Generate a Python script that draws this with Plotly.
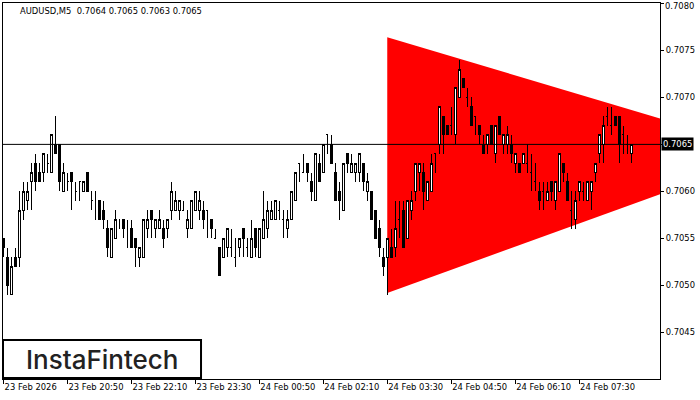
import pandas as pd
import plotly.graph_objects as go

symbol = "AUDUSD,M5"
start_time = "2026-02-23 19:30"
bar_minutes = 5

open_ = [0.7055, 0.7053, 0.7049, 0.7053, 0.7053, 0.7058, 0.7059, 0.7061, 0.7063, 0.7062,
         0.7062, 0.7063, 0.7062, 0.7065, 0.7065, 0.7060, 0.7061, 0.7062, 0.7060, 0.7061,
         0.7060, 0.7062, 0.7059, 0.7058, 0.7059, 0.7058, 0.7056, 0.7053, 0.7055, 0.7057,
         0.7057, 0.7055, 0.7056, 0.7055, 0.7053, 0.7053, 0.7056, 0.7058, 0.7056, 0.7056,
         0.7056, 0.7056, 0.7058, 0.7058, 0.7058, 0.7058, 0.7056, 0.7056, 0.7058, 0.7058,
         0.7058, 0.7058, 0.7057, 0.7055, 0.7054, 0.7053, 0.7054, 0.7054, 0.7053, 0.7054,
         0.7056, 0.7054, 0.7053, 0.7056, 0.7053, 0.7055, 0.7056, 0.7057, 0.7057, 0.7058,
         0.7057, 0.7056, 0.7057, 0.7059, 0.7063, 0.7062, 0.7063, 0.7061, 0.7059, 0.7063,
         0.7062, 0.7066, 0.7065, 0.7062, 0.7060, 0.7058, 0.7064, 0.7062, 0.7062, 0.7062,
         0.7063, 0.7060, 0.7060, 0.7058, 0.7056, 0.7053, 0.7053, 0.7054, 0.7054, 0.7057,
         0.7058, 0.7055, 0.7058, 0.7060, 0.7062, 0.7062, 0.7059, 0.7060, 0.7064, 0.7065,
         0.7068, 0.7067, 0.7067, 0.7066, 0.7070, 0.7072, 0.7070, 0.7069, 0.7068, 0.7067,
         0.7065, 0.7065, 0.7067, 0.7064, 0.7068, 0.7065, 0.7065, 0.7065, 0.7063, 0.7063,
         0.7063, 0.7063, 0.7062, 0.7061, 0.7060, 0.7060, 0.7059, 0.7061, 0.7059, 0.7060,
         0.7063, 0.7061, 0.7058, 0.7057, 0.7060, 0.7060, 0.7059, 0.7060, 0.7062, 0.7064,
         0.7065, 0.7068, 0.7067, 0.7068, 0.7068, 0.7066, 0.7065, 0.7064]
high = [0.7055, 0.7054, 0.7053, 0.7054, 0.7060, 0.7061, 0.7061, 0.7063, 0.7064, 0.7063,
        0.7064, 0.7064, 0.7066, 0.7068, 0.7065, 0.7063, 0.7062, 0.7062, 0.7061, 0.7061,
        0.7061, 0.7062, 0.7060, 0.7060, 0.7059, 0.7059, 0.7057, 0.7056, 0.7058, 0.7057,
        0.7057, 0.7057, 0.7057, 0.7055, 0.7054, 0.7057, 0.7058, 0.7058, 0.7057, 0.7058,
        0.7057, 0.7057, 0.7061, 0.7060, 0.7059, 0.7059, 0.7058, 0.7059, 0.7060, 0.7060,
        0.7059, 0.7058, 0.7057, 0.7056, 0.7054, 0.7055, 0.7056, 0.7056, 0.7055, 0.7055,
        0.7056, 0.7055, 0.7057, 0.7056, 0.7056, 0.7060, 0.7059, 0.7059, 0.7059, 0.7059,
        0.7058, 0.7058, 0.7060, 0.7062, 0.7063, 0.7064, 0.7063, 0.7062, 0.7064, 0.7064,
        0.7065, 0.7066, 0.7066, 0.7063, 0.7061, 0.7063, 0.7064, 0.7064, 0.7063, 0.7064,
        0.7063, 0.7062, 0.7060, 0.7058, 0.7057, 0.7054, 0.7055, 0.7056, 0.7059, 0.7059,
        0.7059, 0.7059, 0.7060, 0.7063, 0.7063, 0.7063, 0.7061, 0.7064, 0.7064, 0.7069,
        0.7068, 0.7067, 0.7069, 0.7071, 0.7074, 0.7072, 0.7071, 0.7070, 0.7068, 0.7067,
        0.7066, 0.7066, 0.7067, 0.7067, 0.7068, 0.7066, 0.7067, 0.7066, 0.7064, 0.7063,
        0.7064, 0.7065, 0.7064, 0.7063, 0.7061, 0.7061, 0.7061, 0.7061, 0.7061, 0.7064,
        0.7063, 0.7062, 0.7060, 0.7060, 0.7061, 0.7061, 0.7061, 0.7061, 0.7063, 0.7066,
        0.7068, 0.7069, 0.7069, 0.7068, 0.7068, 0.7067, 0.7066, 0.7065]
low = [0.7053, 0.7049, 0.7049, 0.7052, 0.7052, 0.7057, 0.7058, 0.7058, 0.7060, 0.7061,
       0.7061, 0.7062, 0.7062, 0.7064, 0.7060, 0.7060, 0.7060, 0.7058, 0.7059, 0.7059,
       0.7060, 0.7060, 0.7058, 0.7057, 0.7057, 0.7056, 0.7053, 0.7053, 0.7055, 0.7056,
       0.7055, 0.7054, 0.7054, 0.7052, 0.7052, 0.7053, 0.7055, 0.7055, 0.7055, 0.7056,
       0.7054, 0.7055, 0.7057, 0.7058, 0.7057, 0.7058, 0.7055, 0.7056, 0.7058, 0.7057,
       0.7056, 0.7055, 0.7055, 0.7055, 0.7051, 0.7053, 0.7053, 0.7053, 0.7052, 0.7053,
       0.7053, 0.7053, 0.7053, 0.7053, 0.7053, 0.7055, 0.7055, 0.7057, 0.7057, 0.7057,
       0.7055, 0.7055, 0.7057, 0.7059, 0.7061, 0.7062, 0.7061, 0.7059, 0.7059, 0.7061,
       0.7062, 0.7064, 0.7063, 0.7059, 0.7057, 0.7058, 0.7062, 0.7062, 0.7061, 0.7061,
       0.7060, 0.7059, 0.7057, 0.7055, 0.7053, 0.7051, 0.7049, 0.7053, 0.7053, 0.7055,
       0.7054, 0.7055, 0.7057, 0.7059, 0.7060, 0.7058, 0.7059, 0.7060, 0.7062, 0.7064,
       0.7064, 0.7066, 0.7066, 0.7065, 0.7070, 0.7071, 0.7069, 0.7067, 0.7066, 0.7065,
       0.7064, 0.7064, 0.7065, 0.7063, 0.7066, 0.7064, 0.7064, 0.7063, 0.7062, 0.7062,
       0.7063, 0.7062, 0.7060, 0.7060, 0.7058, 0.7058, 0.7059, 0.7059, 0.7058, 0.7060,
       0.7061, 0.7059, 0.7056, 0.7056, 0.7059, 0.7059, 0.7059, 0.7058, 0.7061, 0.7063,
       0.7063, 0.7067, 0.7066, 0.7067, 0.7063, 0.7064, 0.7064, 0.7063]
close = [0.7054, 0.7050, 0.7052, 0.7052, 0.7058, 0.7060, 0.7060, 0.7062, 0.7061, 0.7061,
         0.7064, 0.7063, 0.7066, 0.7064, 0.7061, 0.7062, 0.7061, 0.7061, 0.7060, 0.7061,
         0.7061, 0.7060, 0.7059, 0.7058, 0.7057, 0.7057, 0.7054, 0.7056, 0.7057, 0.7057,
         0.7056, 0.7055, 0.7054, 0.7054, 0.7054, 0.7057, 0.7057, 0.7057, 0.7057, 0.7057,
         0.7055, 0.7057, 0.7060, 0.7059, 0.7059, 0.7058, 0.7057, 0.7059, 0.7060, 0.7059,
         0.7057, 0.7058, 0.7056, 0.7055, 0.7051, 0.7055, 0.7056, 0.7054, 0.7053, 0.7055,
         0.7055, 0.7054, 0.7055, 0.7054, 0.7056, 0.7057, 0.7058, 0.7058, 0.7059, 0.7058,
         0.7057, 0.7057, 0.7060, 0.7062, 0.7063, 0.7062, 0.7062, 0.7060, 0.7064, 0.7061,
         0.7065, 0.7066, 0.7063, 0.7059, 0.7059, 0.7063, 0.7063, 0.7063, 0.7063, 0.7064,
         0.7061, 0.7061, 0.7057, 0.7055, 0.7054, 0.7052, 0.7055, 0.7053, 0.7056, 0.7057,
         0.7054, 0.7059, 0.7059, 0.7063, 0.7063, 0.7060, 0.7061, 0.7063, 0.7064, 0.7069,
         0.7066, 0.7066, 0.7067, 0.7071, 0.7073, 0.7071, 0.7070, 0.7067, 0.7068, 0.7066,
         0.7064, 0.7066, 0.7065, 0.7067, 0.7066, 0.7066, 0.7066, 0.7064, 0.7064, 0.7062,
         0.7064, 0.7063, 0.7062, 0.7061, 0.7059, 0.7060, 0.7060, 0.7060, 0.7061, 0.7064,
         0.7062, 0.7059, 0.7058, 0.7059, 0.7061, 0.7060, 0.7061, 0.7061, 0.7063, 0.7066,
         0.7067, 0.7068, 0.7067, 0.7067, 0.7065, 0.7066, 0.7065, 0.7065]

# triangle pattern vertices (time, price)
tri_times = ["2026-02-24 03:30", "2026-02-24 11:35", "2026-02-24 03:30"]
tri_prices = [0.70764, 0.70641, 0.70492]

x_tick_vals = ["2026-02-23 19:30", "2026-02-23 20:50", "2026-02-23 22:10", "2026-02-23 23:30",
               "2026-02-24 00:50", "2026-02-24 02:10", "2026-02-24 03:30", "2026-02-24 04:50",
               "2026-02-24 06:10", "2026-02-24 07:30"]
x_tick_text = ["23 Feb 2026", "23 Feb 20:50", "23 Feb 22:10", "23 Feb 23:30",
               "24 Feb 00:50", "24 Feb 02:10", "24 Feb 03:30", "24 Feb 04:50",
               "24 Feb 06:10", "24 Feb 07:30"]
y_tick_vals = [0.7045, 0.7050, 0.7055, 0.7060, 0.7065, 0.7070, 0.7075, 0.7080]
y_tick_text = ["0.7045", "0.7050", "0.7055", "0.7060", "0.7065", "0.7070", "0.7075", "0.7080"]

x_range = ["2026-02-23 19:29:15", "2026-02-24 09:11:15"]
y_range = [0.704004, 0.708004]

times = pd.date_range(start_time, periods=len(close), freq=f"{bar_minutes}min")

FONT = "DejaVu Sans"
fsize = 8.4

# the current-price tag covers its own tick label; the top label is nudged inside the page
y_tick_shown = []
edge_labels = []
for v, t in zip(y_tick_vals, y_tick_text):
    if abs(v - close[-1]) < 1e-9:
        y_tick_shown.append("")
    elif y_range[1] - v < 0.00003:
        y_tick_shown.append("")
        edge_labels.append((v, t))
    else:
        y_tick_shown.append(t)

fig = go.Figure()
fig.add_trace(go.Candlestick(
    x=times, open=open_, high=high, low=low, close=close,
    increasing=dict(fillcolor="white", line=dict(color="black", width=1)),
    decreasing=dict(fillcolor="black", line=dict(color="black", width=1)),
    whiskerwidth=0, hoverinfo="skip", showlegend=False,
))

def dpath(t):
    return pd.Timestamp(t).strftime("%Y-%m-%d_%H:%M:%S")

tri_path = "M " + " L ".join(f"{dpath(t)},{p}" for t, p in zip(tri_times, tri_prices)) + " Z"

shapes = [
    dict(type="path", path=tri_path, xref="x", yref="y", fillcolor="#ff0000",
         line=dict(width=0), layer="below"),
    dict(type="line", xref="paper", yref="y", x0=0, x1=1, y0=close[-1], y1=close[-1],
         line=dict(color="black", width=1), layer="above"),
    dict(type="rect", xref="paper", yref="paper", x0=0.0, x1=0.3014, y0=0.0027, y1=0.1037,
         fillcolor="white", line=dict(color="black", width=2), layer="above"),
]

last = f"{open_[-1]:.4f} {high[-1]:.4f} {low[-1]:.4f} {close[-1]:.4f}"
annotations = [
    dict(text=f"{symbol}&nbsp;&nbsp;{last}", xref="paper", yref="paper", x=0.0228, y=0.9787,
         xanchor="left", yanchor="middle", showarrow=False,
         font=dict(family=FONT, size=fsize, color="black")),
    dict(text=f"{close[-1]:.4f}", xref="paper", yref="y", x=1.0, y=close[-1], xshift=1,
         xanchor="left", yanchor="middle", showarrow=False, bgcolor="black", borderpad=1,
         font=dict(family=FONT, size=fsize, color="white")),
    dict(text="InstaFintech", xref="paper", yref="paper", x=0.1507, y=0.052,
         xanchor="center", yanchor="middle", showarrow=False,
         font=dict(family="Inter", size=26, color="#222222", weight=500)),
]
for v, t in edge_labels:
    annotations.append(dict(text=t, xref="paper", yref="y", x=1.0, y=v, xshift=4, yshift=-3,
                            xanchor="left", yanchor="middle", showarrow=False, borderpad=0,
                            font=dict(family=FONT, size=fsize, color="black")))

fig.update_layout(
    width=700, height=400,
    margin=dict(l=3, r=40, t=3, b=21, pad=0),
    paper_bgcolor="white", plot_bgcolor="white",
    showlegend=False,
    shapes=shapes, annotations=annotations,
    xaxis=dict(type="date", range=x_range, rangeslider=dict(visible=False),
               showgrid=False, zeroline=False, showline=True, linecolor="black", linewidth=1,
               mirror=True, ticks="outside", ticklen=4, tickcolor="black", tickwidth=1,
               tickangle=0, automargin=False,
               tickvals=x_tick_vals, ticktext=x_tick_text, ticklabelposition="outside right",
               tickfont=dict(family=FONT, size=fsize, color="black")),
    yaxis=dict(side="right", range=y_range, showgrid=False, zeroline=False,
               showline=True, linecolor="black", linewidth=1, mirror=True, automargin=False,
               ticks="outside", ticklen=3, tickcolor="black", tickwidth=1,
               tickvals=y_tick_vals, ticktext=y_tick_shown,
               tickfont=dict(family=FONT, size=fsize, color="black")),
)

post_js = (
    "document.body.style.margin='0';document.body.style.overflow='hidden';"
    "var st=document.createElement('style');"
    "st.textContent='.boxlayer path{shape-rendering:crispEdges}';"
    "document.head.appendChild(st);"
)
fig.write_html("out.html", config={"displayModeBar": False}, post_script=post_js)
